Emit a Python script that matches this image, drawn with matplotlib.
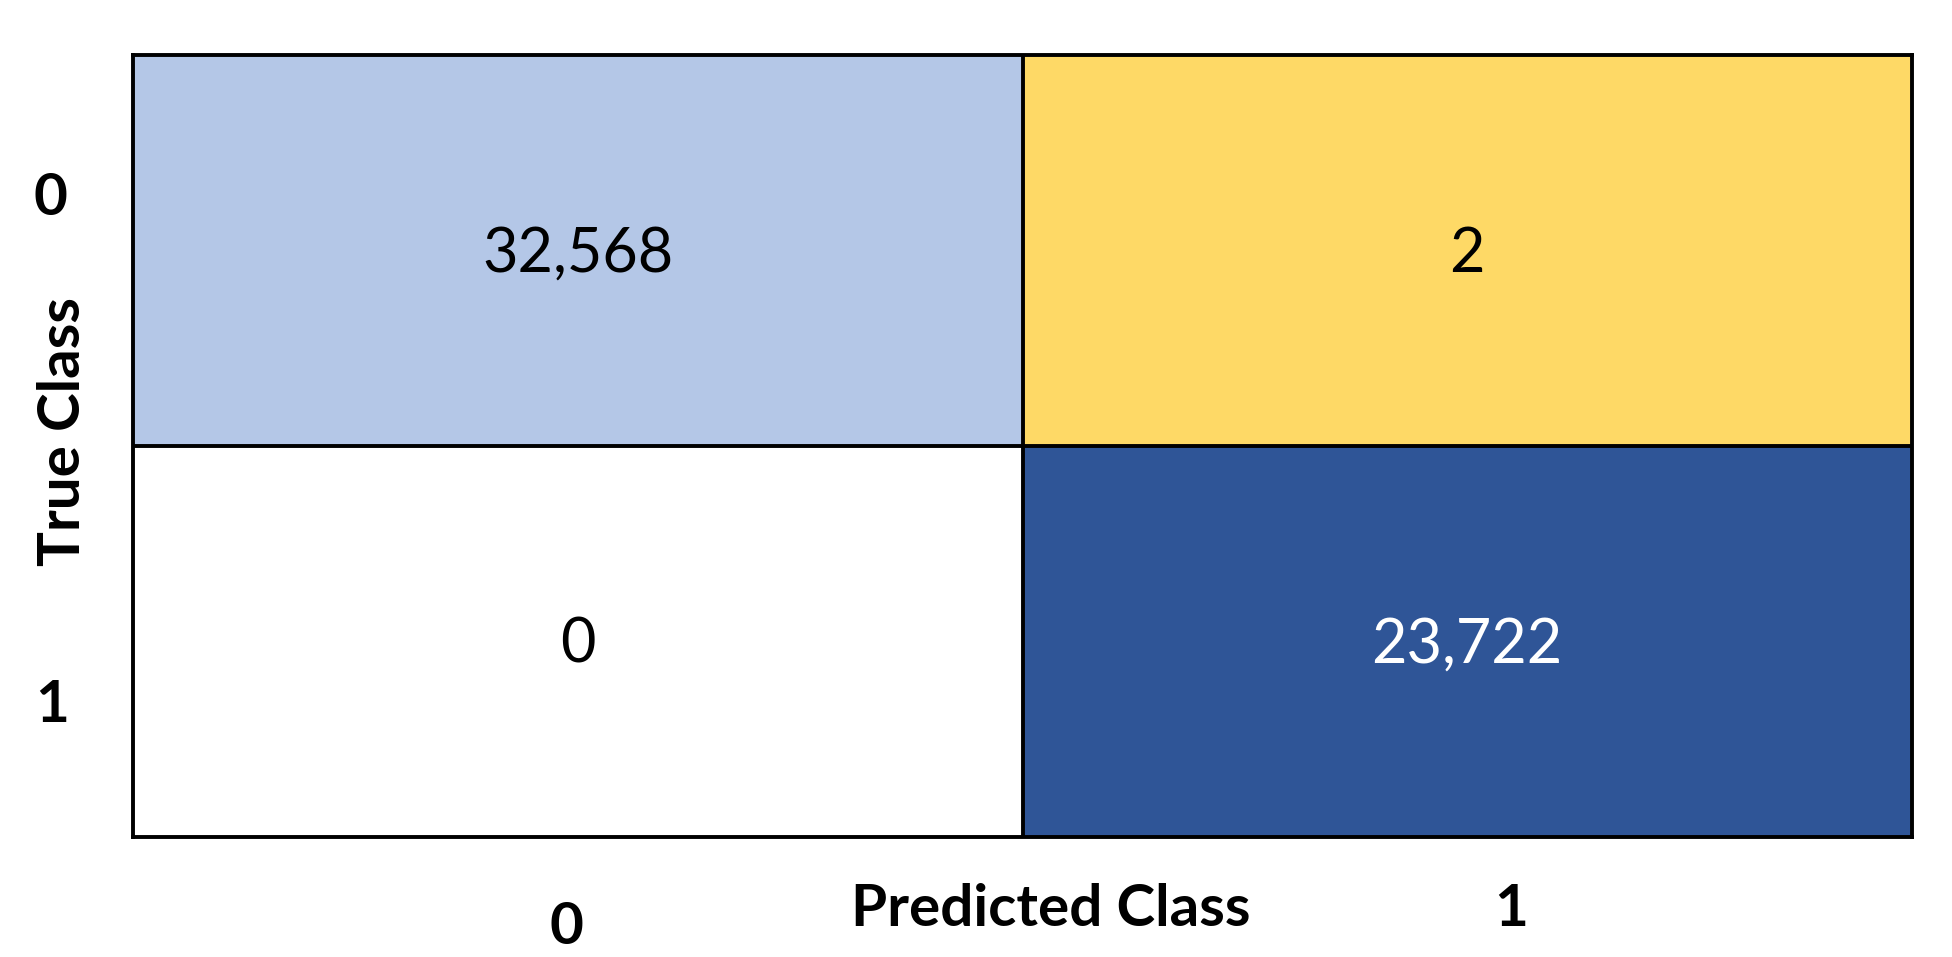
import matplotlib
matplotlib.use("Agg")
import matplotlib.pyplot as plt
import numpy as np
from matplotlib.colors import to_rgb

plt.rcParams["font.family"] = ["Lato", "DejaVu Sans"]

# confusion matrix: rows = true class, cols = predicted class
classes = ["0", "1"]
counts = np.array([[32568, 2],
                   [0, 23722]])
cell_colors = [["#B4C7E7", "#FED966"],
               ["#FFFFFF", "#2F5597"]]
text_colors = [["black", "black"],
               ["black", "white"]]

W, H = 1952, 957
fig = plt.figure(figsize=(W / 100, H / 100), dpi=100)
ax = fig.add_axes([133 / W, 1 - 837 / H, (1912 - 133) / W, (837 - 55) / H])

rgb = np.array([[to_rgb(c) for c in row] for row in cell_colors])
ax.imshow(rgb, aspect="auto", interpolation="nearest")

# cell borders
ax.axvline(0.5, color="black", lw=2.8)
ax.axhline(0.5, color="black", lw=2.8)
for sp in ax.spines.values():
    sp.set_linewidth(2.8)
    sp.set_color("black")

for i in range(counts.shape[0]):
    for j in range(counts.shape[1]):
        ax.text(j, i + 0.01, f"{counts[i, j]:,}", ha="center", va="center",
                fontsize=44, color=text_colors[i][j])

ax.set_xticks([])
ax.set_yticks([])

# tick labels and axis titles, placed as in the original layout
lab = dict(ha="center", va="center", fontsize=42, fontweight="bold")
fig.text(50 / W, 1 - 199 / H, classes[0], **lab)
fig.text(52 / W, 1 - 706 / H, classes[1], **lab)
fig.text(566 / W, 1 - 927 / H, classes[0], **lab)
fig.text(1511 / W, 1 - 910 / H, classes[1], **lab)
fig.text(1051 / W, 1 - 910 / H, "Predicted Class", **lab)
fig.text(63 / W, 1 - 432 / H, "True Class", rotation=90, **lab)

fig.savefig("out.png", dpi=100)
